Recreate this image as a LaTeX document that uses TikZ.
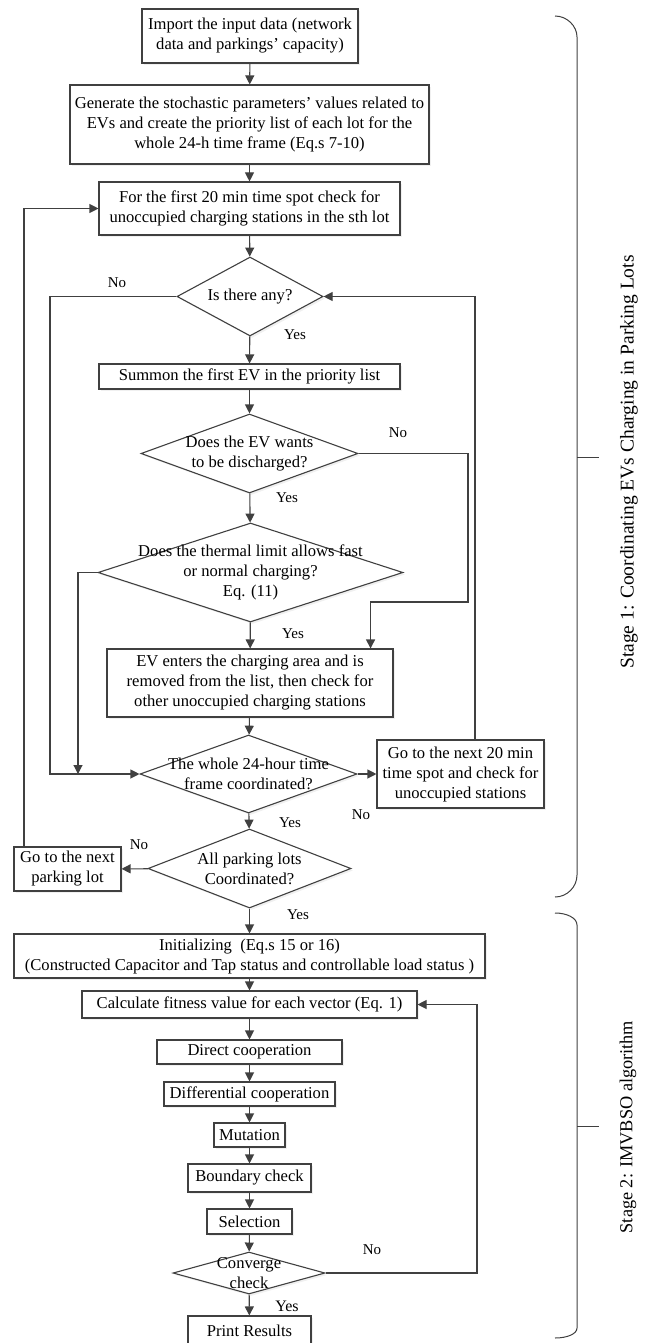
\documentclass[tikz,border=0pt]{standalone}
\usepackage{fontspec}
\setmainfont{Liberation Serif}
\usetikzlibrary{positioning,arrows.meta,shapes.geometric,shadows}

\begin{document}
\begin{tikzpicture}[x=1pt,y=-1pt,>={Triangle[length=9pt,width=9pt]},
  shd/.style={drop shadow={opacity=0.12,shadow xshift=2pt,shadow yshift=-2pt}},
  box/.style={draw=black!75,line width=1.1pt,fill=white,shd,align=center,inner sep=0pt,font=\fontsize{16.6}{20}\selectfont},
  dia/.style={diamond,draw=black!75,line width=1.1pt,fill=white,shd,inner sep=0pt},
  dtxt/.style={align=center,inner sep=0pt,font=\fontsize{16.6}{20}\selectfont},
  arr/.style={->,draw=black!75,line width=1.1pt},
  lbl/.style={font=\fontsize{15}{18}\selectfont},
  brace/.style={draw=black!75,line width=1pt}]
\useasboundingbox (0,0) rectangle (650,1343);
% stage 1
\node[box,minimum width=216pt,minimum height=54pt] (imp) at (250,36) {Import the input data (network\\data and parkings' capacity)};
\node[box,minimum width=359pt,minimum height=79pt] (gen) at (249.5,124.5) {Generate the stochastic parameters' values related to\\EVs and create the priority list of each lot for the\\whole 24-h time frame (Eq.s 7-10)};
\node[box,minimum width=301pt,minimum height=53pt] (first) at (249.5,208.5) {For the first 20 min time spot check for\\unoccupied charging stations in the sth lot};
\node[dia,minimum width=146pt,minimum height=79pt,label={[dtxt]center:Is there any?}] (any) at (250,296.5) {};
\node[box,minimum width=301pt,minimum height=25pt] (summ) at (249.5,376.5) {Summon the first EV in the priority list};
\node[dia,minimum width=217pt,minimum height=79pt,label={[dtxt]center:{Does the EV wants\\to be discharged?}}] (dis) at (249.5,453.5) {};
\node[dia,minimum width=305pt,minimum height=99pt,label={[dtxt]center:{Does the thermal limit allows fast\\or normal charging?\\Eq. (11)}}] (therm) at (250.5,572.5) {};
\node[box,minimum width=286pt,minimum height=68pt] (enter) at (250,683) {EV enters the charging area and is\\removed from the list, then check for\\other unoccupied charging stations};
\node[dia,minimum width=217pt,minimum height=78pt,label={[dtxt]center:{The whole 24-hour time\\frame coordinated?}}] (whole) at (248.5,774) {};
\node[box,minimum width=167pt,minimum height=68pt] (nexttime) at (460.5,774) {Go to the next 20 min\\time spot and check for\\unoccupied stations};
\node[dia,minimum width=203pt,minimum height=79pt,label={[dtxt]center:{All parking lots\\Coordinated?}}] (all) at (249.5,868.5) {};
\node[box,minimum width=107pt,minimum height=44pt] (nextlot) at (67.5,869) {Go to the next\\parking lot};
% stage 2
\node[box,minimum width=471pt,minimum height=44pt] (init) at (249.5,956) {Initializing~ (Eq.s 15 or 16)\\(Constructed Capacitor and Tap status and controllable load status )};
\node[box,minimum width=335pt,minimum height=27pt] (fit) at (249.5,1004.5) {Calculate fitness value for each vector (Eq. 1)};
\node[box,minimum width=185pt,minimum height=24pt] (direct) at (249.5,1052) {Direct cooperation};
\node[box,minimum width=171pt,minimum height=24pt] (diff) at (249.5,1094) {Differential cooperation};
\node[box,minimum width=71pt,minimum height=24pt] (mut) at (249.5,1135) {Mutation};
\node[box,minimum width=123pt,minimum height=28pt] (bound) at (249.5,1178) {Boundary check};
\node[box,minimum width=85pt,minimum height=25pt] (sel) at (249.5,1221.5) {Selection};
\node[dia,minimum width=152pt,minimum height=42pt,label={[dtxt]center:{Converge\\check}}] (conv) at (249,1273) {};
\node[box,minimum width=123pt,minimum height=30pt] (print) at (249.5,1331) {Print Results};

\draw[arr] (imp) -- (gen);
\draw[arr] (gen) -- (first);
\draw[arr] (first) -- (any);
\draw[arr] (any) -- (summ);
\node[lbl] (yes1) at (295,335) {Yes};
\draw[arr] (any.west) -- (50,296.5) |- (whole.west);
\node[lbl] (no1) at (117,283) {No};
\draw[arr] (summ) -- (dis);
\draw[arr] (dis.east) -| (468,602) -| ([xshift=-23pt]enter.north east);
\node[lbl] (no2) at (398,433) {No};
\draw[arr] (dis) -- (therm);
\node[lbl] (yes2) at (287,498) {Yes};
\coordinate (tj) at (78,774);
\draw[arr] (therm.west) -| (tj);
\draw[arr] (therm) -- (enter);
\node[lbl] (yes3) at (293,634) {Yes};
\draw[arr] (enter) -- (whole);
\draw[arr] (whole) -- (nexttime);
\node[lbl] (no3) at (361,815) {No};
\draw[arr] ([xshift=14.5pt]nexttime.north) |- (any.east);
\draw[arr] (whole) -- (all);
\node[lbl] (yes4) at (290,823) {Yes};
\draw[arr] (all) -- (nextlot);
\node[lbl] (no4) at (139,845) {No};
\draw[arr] ([xshift=-43.5pt]nextlot.north) |- (first.west);
\draw[arr] (all) -- (init);
\node[lbl] (yes5) at (298,915) {Yes};
\draw[arr] (init) -- (fit);
\draw[arr] (fit) -- (direct);
\draw[arr] (direct) -- (diff);
\draw[arr] (diff) -- (mut);
\draw[arr] (mut) -- (bound);
\draw[arr] (bound) -- (sel);
\draw[arr] (sel) -- (conv);
\draw[arr] (conv.east) -- (477,1273) |- (fit.east);
\node[lbl] (no5) at (372,1250) {No};
\draw[arr] (conv) -- (print);
\node[lbl,font=\fontsize{16}{18}\selectfont] (yes6) at (287,1306) {Yes};

% braces
\draw[brace] (555,16) .. controls (567,16) and (577,26) .. (577,37) -- (577,875) .. controls (577,887) and (567,897) .. (555,897);
\draw[brace] (577,457) -- (599,457);
\draw[brace] (555,913) .. controls (567,913) and (577,918) .. (577,925) -- (577,1328) .. controls (577,1334) and (567,1338) .. (555,1338);
\draw[brace] (577,1126) -- (599,1126);
\node[rotate=90,font=\fontsize{19.5}{22}\selectfont] (stage1) at (629,462) {Stage 1: Coordinating EVs Charging in Parking Lots};
\node[rotate=90,font=\fontsize{18.3}{22}\selectfont] (stage2) at (628,1127) {Stage 2: IMVBSO algorithm};
\end{tikzpicture}
\end{document}
